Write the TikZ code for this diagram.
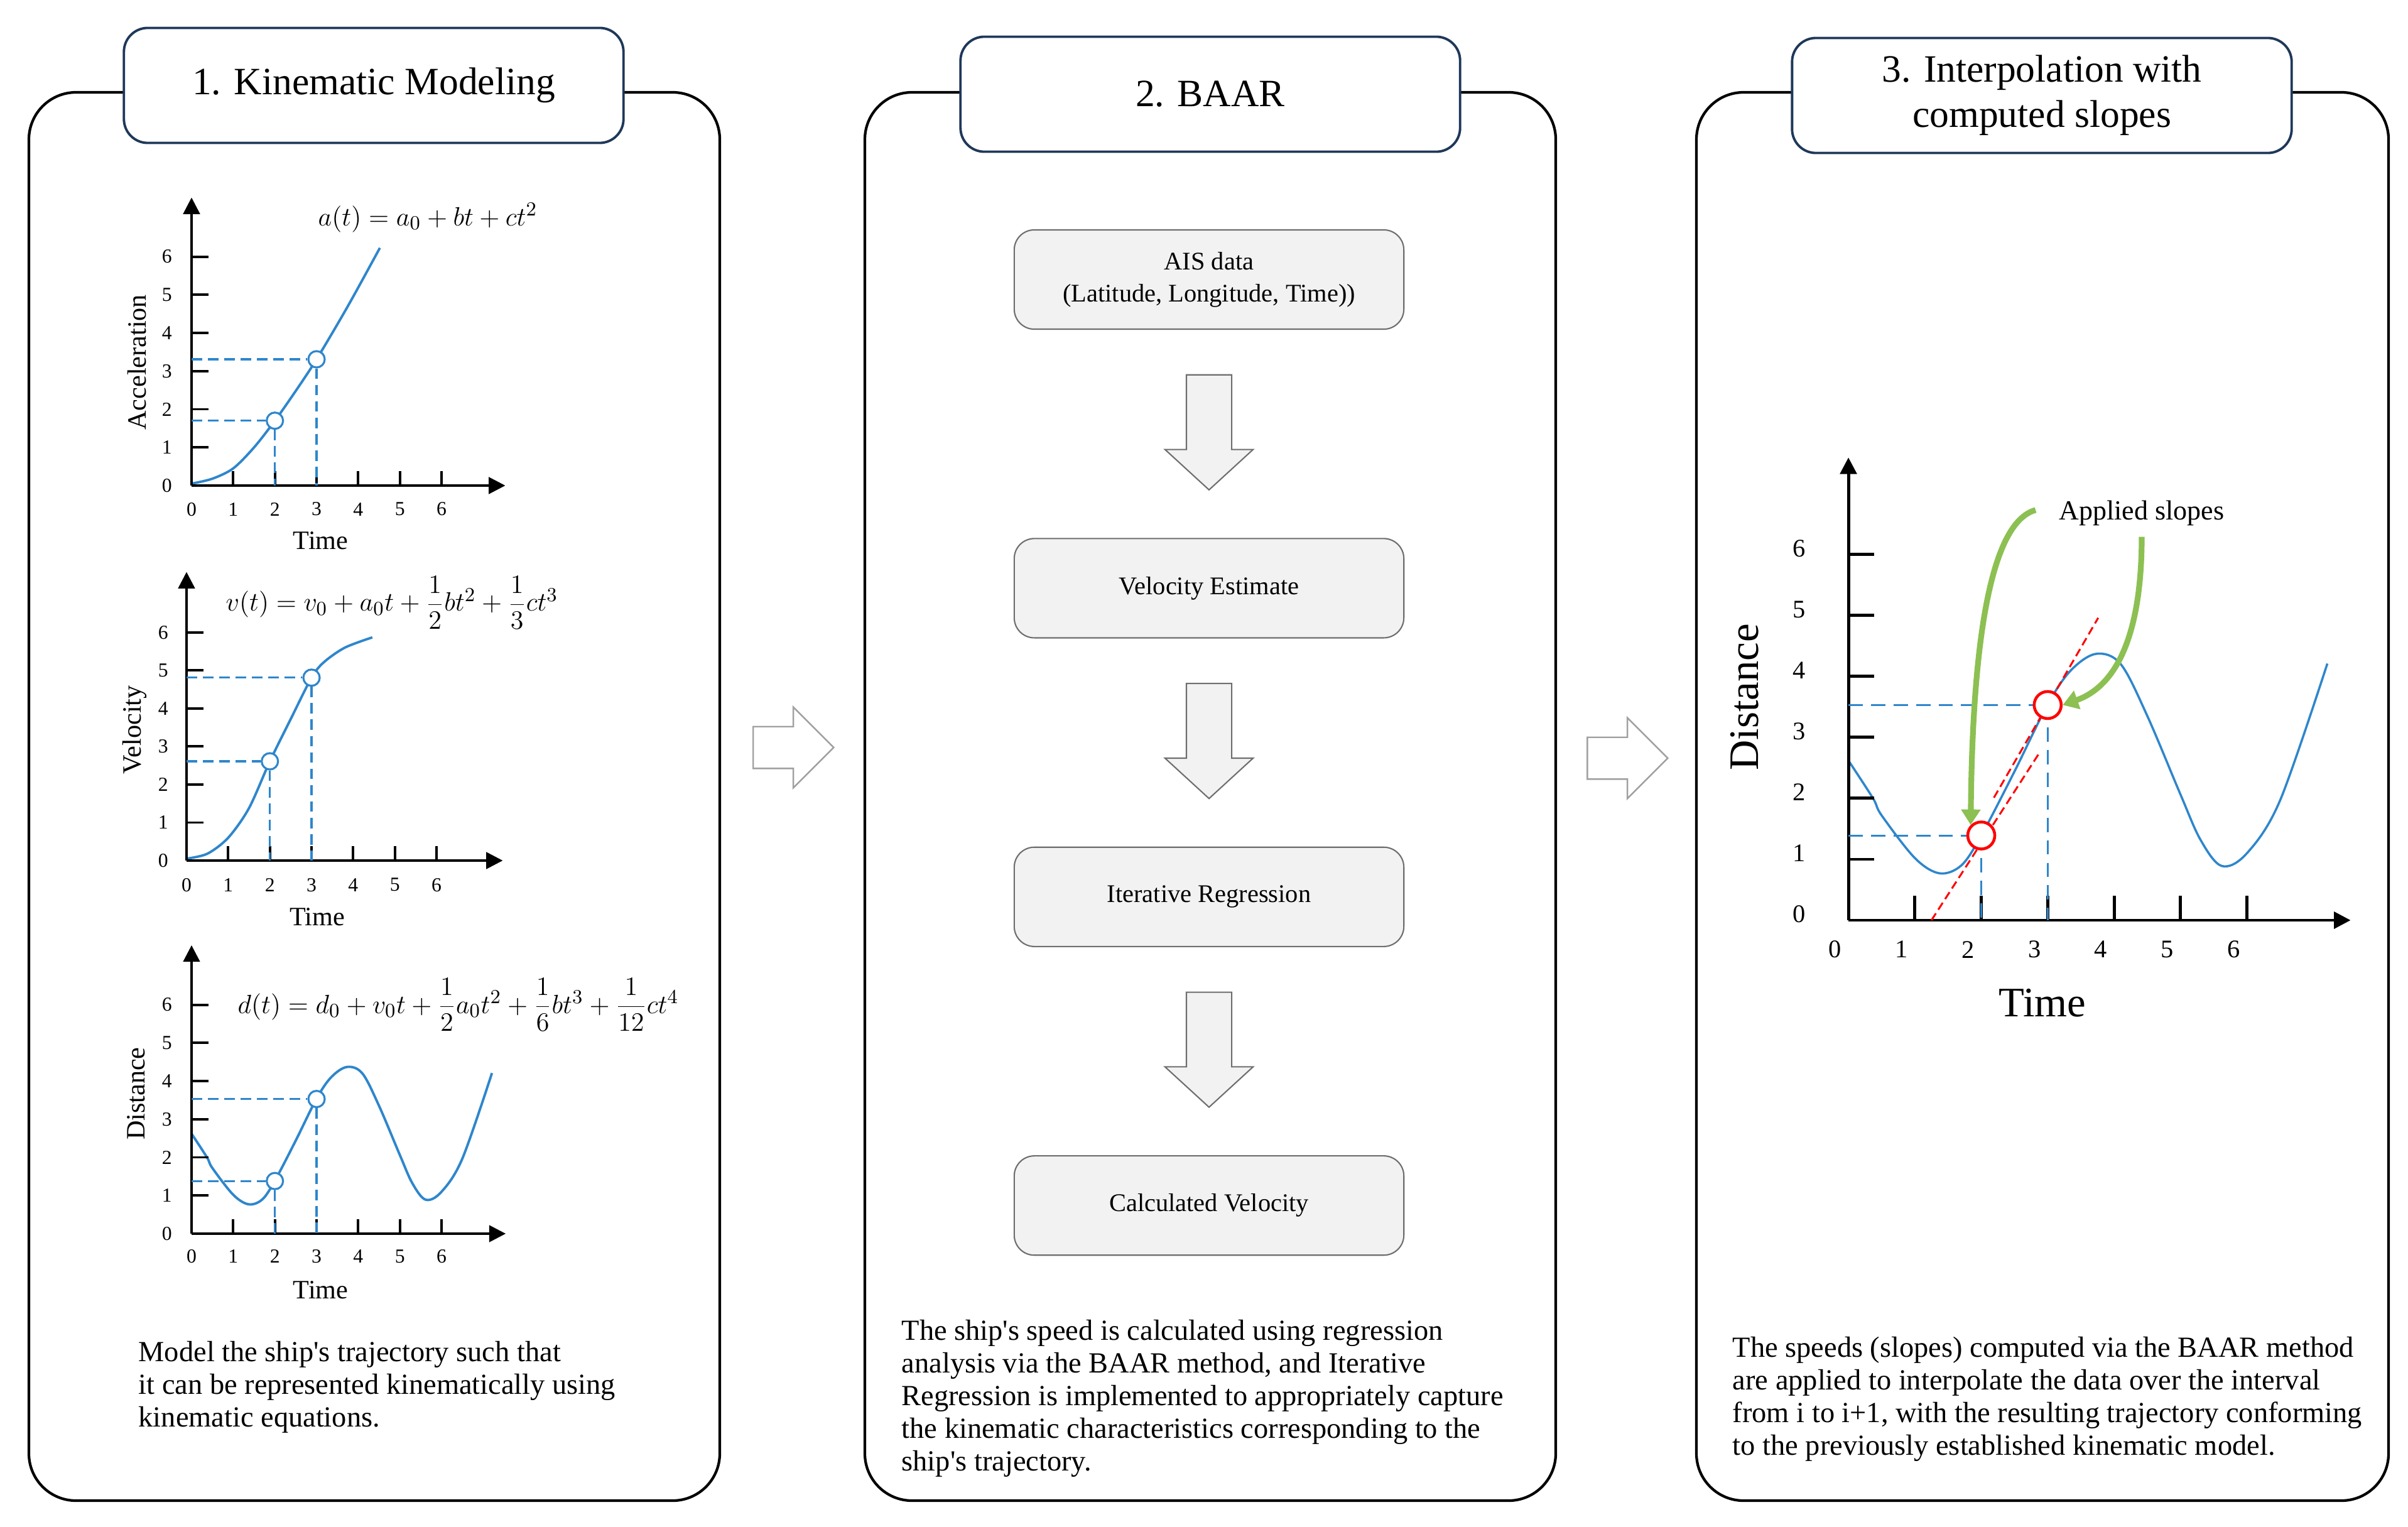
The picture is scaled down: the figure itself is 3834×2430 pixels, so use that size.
\documentclass[tikz,border=0pt]{standalone}
\usepackage{fontspec}
\setmainfont{Liberation Serif}
\usepackage{amsmath}
\usetikzlibrary{arrows.meta,positioning,shapes.arrows,calc}

\definecolor{curveblue}{RGB}{46,134,204}
\definecolor{titlenavy}{RGB}{31,56,90}
\definecolor{boxgray}{RGB}{110,110,110}
\definecolor{boxfill}{RGB}{242,242,242}
\definecolor{linkgray}{RGB}{160,160,160}
\definecolor{slopegreen}{RGB}{140,192,82}

\tikzset{
  panel/.style={draw=black,line width=1.2pt,rounded corners=0.75cm},
  titlebox/.style={draw=titlenavy,line width=1.1pt,fill=white,rounded corners=0.38cm,
    minimum width=7.95cm,minimum height=1.83cm,align=center,font=\fontsize{17.5}{20.5}\selectfont},
  stepbox/.style={draw=boxgray,fill=boxfill,line width=0.6pt,rounded corners=0.32cm,
    minimum width=6.2cm,minimum height=1.58cm,align=center,font=\fontsize{11.5}{14.5}\selectfont},
  downarrow/.style={single arrow,draw=boxgray,fill=boxfill,line width=0.6pt,
    inner xsep=0pt,inner ysep=0.35cm,
    single arrow head extend=0.34cm,single arrow tip angle=95,
    minimum height=1.83cm,rotate=-90},
  linkarrow/.style={single arrow,draw=linkgray,fill=white,line width=0.7pt,
    inner xsep=0pt,inner ysep=0.32cm,
    single arrow head extend=0.31cm,single arrow tip angle=90,
    minimum height=1.28cm},
  note/.style={align=left,inner sep=0pt,anchor=west,font=\fontsize{13.2}{14.8}\selectfont},
  axis/.style={line width=1.1pt,-{Triangle[width=7.5pt,length=7.5pt]}},
  tick/.style={line width=1.1pt},
  ticklabel/.style={font=\fontsize{9}{10}\selectfont,inner sep=0pt},
  axislabel/.style={font=\fontsize{12}{14}\selectfont,inner sep=0pt},
  curve/.style={draw=curveblue,line width=1.1pt},
  guide/.style={draw=curveblue,line width=0.9pt,dash pattern=on 4.8pt off 2.6pt},
  dot/.style={circle,draw=curveblue,fill=white,line width=0.9pt,minimum size=0.26cm,inner sep=0pt},
  equation/.style={font=\fontsize{12.5}{15}\selectfont,inner sep=0pt},
  bigdot/.style={circle,draw=red,fill=white,line width=1.3pt,minimum size=0.43cm,inner sep=0pt},
  slope/.style={draw=red,line width=0.85pt,dash pattern=on 3.7pt off 2pt},
  slopearrow/.style={draw=slopegreen,line width=2.6pt,-{Triangle[width=8.5pt,length=7pt]}}
}

\newcommand{\apos}{\textquotesingle}
\newcommand{\distcurve}{plot[smooth,tension=0.55] coordinates {(0,2.62) (0.37,2.0) (0.5,1.72)
  (1,1.02) (1.37,0.77) (1.7,0.9) (2,1.39) (2.5,2.44) (3,3.54) (3.35,4.1) (3.73,4.37) (4.1,4.2)
  (4.5,3.35) (5,2.06) (5.3,1.32) (5.62,0.89) (6,1.1) (6.5,1.97) (7.21,4.21)}}

\begin{document}
\begin{tikzpicture}[x=0.01cm,y=-0.01cm]
\useasboundingbox (0,0) rectangle (3834,2430);

%% Panels
\draw[panel] (46,147) rectangle (1146,2389);
\draw[panel] (1377,147) rectangle (2477,2389);
\draw[panel] (2701,147) rectangle (3803,2389);
\node[titlebox] (title1) at (595,136) {1. Kinematic Modeling};
\node[titlebox] (title2) at (1927,150) {2. BAAR};
\node[titlebox] (title3) at (3251,152) {3. Interpolation with\\computed slopes};

%% Acceleration
\begin{scope}[shift={(305,773)},x=0.663cm,y=0.607cm]
  \draw[curve] plot[smooth] coordinates {(0,0.05) (0.5,0.18) (1,0.45) (1.5,1.0) (2,1.7)
    (2.5,2.48) (3,3.31) (3.75,4.7) (4.52,6.23)};
  \foreach \k in {1,...,6} {
    \draw[tick] (\k,0) -- (\k,0.38);
    \draw[tick] (0,\k) -- (0.41,\k);
  }
  \foreach \k in {0,...,6} {
    \node[ticklabel] at (\k,-0.62) {\k};
    \node[ticklabel] at (-0.59,\k) {\k};
  }
  \draw[axis] (0,0) -- (7.53,0);
  \draw[axis] (0,0) -- (0,7.55);
  \node[dot] (acc2) at (2,1.7) {};
  \node[dot] (acc3) at (3,3.31) {};
  \draw[guide] (0,1.7) -- (acc2);
  \draw[guide] (acc2) -- (2,0);
  \draw[guide] (0,3.31) -- (acc3);
  \draw[guide] (acc3) -- (3,0);
  \node[axislabel] at (3.1,-1.45) {Time};
  \node[axislabel,rotate=90] at (-1.31,3.23) {Acceleration};
  \node[equation] at (5.67,7.02) {$a(t)=a_0+bt+ct^2$};
\end{scope}

%% Velocity
\begin{scope}[shift={(297,1370)},x=0.663cm,y=0.605cm]
  \draw[curve] plot[smooth] coordinates {(0,0.05) (0.5,0.18) (1,0.6) (1.5,1.38) (2,2.61)
    (2.5,3.72) (3,4.81) (3.3,5.22) (3.8,5.6) (4.46,5.87)};
  \foreach \k in {1,...,6} {
    \draw[tick] (\k,0) -- (\k,0.38);
    \draw[tick] (0,\k) -- (0.41,\k);
  }
  \foreach \k in {0,...,6} {
    \node[ticklabel] at (\k,-0.64) {\k};
    \node[ticklabel] at (-0.56,\k) {\k};
  }
  \draw[axis] (0,0) -- (7.59,0);
  \draw[axis] (0,0) -- (0,7.59);
  \node[dot] (vel2) at (2,2.61) {};
  \node[dot] (vel3) at (3,4.81) {};
  \draw[guide] (0,2.61) -- (vel2);
  \draw[guide] (vel2) -- (2,0);
  \draw[guide] (0,4.81) -- (vel3);
  \draw[guide] (vel3) -- (3,0);
  \node[axislabel] at (3.14,-1.49) {Time};
  \node[axislabel,rotate=90] at (-1.25,3.44) {Velocity};
  \node[equation] at (4.93,6.78) {$v(t)=v_0+a_0t+\dfrac{1}{2}bt^2+\dfrac{1}{3}ct^3$};
\end{scope}

%% Distance
\begin{scope}[shift={(305,1964)},x=0.663cm,y=0.607cm]
  \draw[curve] \distcurve;
  \foreach \k in {1,...,6} {
    \draw[tick] (\k,0) -- (\k,0.38);
    \draw[tick] (0,\k) -- (0.41,\k);
  }
  \foreach \k in {0,...,6} {
    \node[ticklabel] at (\k,-0.59) {\k};
    \node[ticklabel] at (-0.59,\k) {\k};
  }
  \draw[axis] (0,0) -- (7.54,0);
  \draw[axis] (0,0) -- (0,7.56);
  \node[dot] (dist2) at (2,1.38) {};
  \node[dot] (dist3) at (3,3.53) {};
  \draw[guide] (0,1.38) -- (dist2);
  \draw[guide] (dist2) -- (2,0);
  \draw[guide] (0,3.53) -- (dist3);
  \draw[guide] (dist3) -- (3,0);
  \node[axislabel] at (3.1,-1.47) {Time};
  \node[axislabel,rotate=90] at (-1.33,3.67) {Distance};
  \node[equation] at (6.4,6.0) {$d(t)=d_0+v_0t+\dfrac{1}{2}a_0t^2+\dfrac{1}{6}bt^3+\dfrac{1}{12}ct^4$};
\end{scope}

\node[note] (note1) at (220,2208) {Model the ship\apos s trajectory such that\\
  it can be represented kinematically using\\kinematic equations.};

%% BAAR steps
\node[stepbox] (ais) at (1925,445) {AIS data\\(Latitude, Longitude, Time))};
\node[stepbox,below=3.31cm of ais] (vel) {Velocity Estimate};
\node[stepbox,below=3.31cm of vel] (iter) {Iterative Regression};
\node[stepbox,below=3.31cm of iter] (calcvel) {Calculated Velocity};
\node[downarrow,anchor=tip] (step1) at ($(vel.north)+(0,-75)$) {};
\node[downarrow,anchor=tip] (step2) at ($(iter.north)+(0,-75)$) {};
\node[downarrow,anchor=tip] (step3) at ($(calcvel.north)+(0,-75)$) {};

\node[note] (note2) at (1435,2226) {The ship\apos s speed is calculated using regression\\
  analysis via the BAAR method, and Iterative\\
  Regression is implemented to appropriately capture\\
  the kinematic characteristics corresponding to the\\
  ship\apos s trajectory.};

%% Links between panels
\node[linkarrow,anchor=tail] (link1) at (1198,1190) {};
\node[linkarrow,anchor=tail] (link2) at (2526,1207) {};

%% Interpolation
\begin{scope}[shift={(2943,1465)},x=1.057cm,y=0.97cm]
  \draw[curve,line width=1pt] \distcurve;
  \foreach \k in {1,...,6} {
    \draw[tick,line width=1.4pt] (\k,0) -- (\k,0.40);
    \draw[tick,line width=1.4pt] (0,\k) -- (0.39,\k);
  }
  \foreach \k in {0,...,6} {
    \node[ticklabel,font=\fontsize{11.5}{13}\selectfont] at (\k-0.2,-0.48) {\k};
    \node[ticklabel,font=\fontsize{11.5}{13}\selectfont] at (-0.74,\k+0.1) {\k};
  }
  \draw[axis,line width=1.4pt] (0,0) -- (7.56,0);
  \draw[axis,line width=1.4pt] (0,0) -- (0,7.59);
  \draw[guide,dash pattern=on 6.5pt off 3.7pt] (0,1.39) -- (2,1.39);
  \draw[guide,dash pattern=on 6.5pt off 3.7pt] (2,1.39) -- (2,0);
  \draw[guide,dash pattern=on 6.5pt off 3.7pt] (0,3.53) -- (3,3.53);
  \draw[guide,dash pattern=on 6.5pt off 3.7pt] (3,3.53) -- (3,0);
  \draw[slope] (1.25,0) -- (2.86,2.72);
  \draw[slope] (2.19,2.01) -- (3.76,4.96);
  \node[bigdot] (c1) at (2,1.39) {};
  \node[bigdot] (c2) at (3,3.53) {};
  \node[font=\fontsize{19}{22}\selectfont,inner sep=0pt] at (2.92,-1.36) {Time};
  \node[font=\fontsize{19}{22}\selectfont,inner sep=0pt,rotate=90] at (-1.56,3.66) {Distance};
\end{scope}

\node[font=\fontsize{12.5}{15}\selectfont,inner sep=0pt] (applied) at (3410,817) {Applied slopes};
\draw[slopearrow] ([xshift=-0.37cm,yshift=0.05cm]applied.west) .. controls +(-67,18) and +(3,-315) .. (c1.north west);
\draw[slopearrow] ([yshift=-0.17cm]applied.south) .. controls +(0,145) and +(91,-32) .. (c2.east);

\node[note] (note3) at (2758,2227) {The speeds (slopes) computed via the BAAR method\\
  are applied to interpolate the data over the interval\\
  from i to i+1, with the resulting trajectory conforming\\
  to the previously established kinematic model.};
\end{tikzpicture}
\end{document}
